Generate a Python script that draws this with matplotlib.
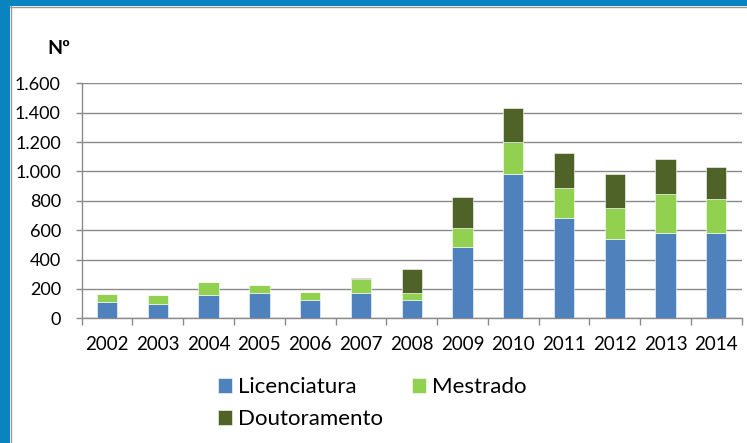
import numpy as np
import matplotlib
matplotlib.use("Agg")
import matplotlib.pyplot as plt
from matplotlib.patches import Rectangle
from matplotlib.lines import Line2D

# ==========================================
# DATA
# ==========================================
years = ["2002", "2003", "2004", "2005", "2006", "2007", "2008",
         "2009", "2010", "2011", "2012", "2013", "2014"]

licenciatura = [113, 99, 161, 174, 127, 174, 127, 486, 985, 685, 540, 581, 579]
mestrado = [52, 58, 84, 55, 50, 92, 45, 127, 218, 204, 211, 263, 236]
doutoramento = [0, 0, 0, 0, 0, 6, 166, 213, 227, 239, 230, 241, 218]

y_ticks = [0, 200, 400, 600, 800, 1000, 1200, 1400, 1600]
y_tick_labels = ["0", "200", "400", "600", "800", "1.000", "1.200", "1.400", "1.600"]

# ==========================================
# STYLE
# ==========================================
plt.rcParams["font.family"] = ["Lato", "DejaVu Sans"]

C_LIC = "#4F81BD"
C_MES = "#92D050"
C_DOU = "#4F6228"
GRID = "#8a8a8a"
FRAME = "#0a84c0"

fig = plt.figure(figsize=(7.47, 4.43), dpi=100)
ax = fig.add_axes([0.1094, 0.2815, 0.8835, 0.5305])

x = np.arange(len(years))
lic = np.array(licenciatura)
mes = np.array(mestrado)
dou = np.array(doutoramento)

bar_kw = dict(width=0.4, edgecolor="white", linewidth=0.4, zorder=3)
ax.bar(x, lic, color=C_LIC, label="Licenciatura", **bar_kw)
ax.bar(x, mes, bottom=lic, color=C_MES, label="Mestrado", **bar_kw)
ax.bar(x, dou, bottom=lic + mes, color=C_DOU, label="Doutoramento", **bar_kw)

ax.set_xlim(-0.5, len(years) - 0.5)
ax.set_ylim(0, 1600)

ax.set_yticks(y_ticks)
ax.set_yticklabels(y_tick_labels, fontsize=13)
ax.set_xticks(x)
ax.set_xticklabels(years, fontsize=13.5)
ax.set_xticks(np.arange(len(years) + 1) - 0.5, minor=True)

ax.tick_params(axis="x", which="major", length=0, pad=13)
ax.tick_params(axis="x", which="minor", length=5, color=GRID, width=1.0)
ax.tick_params(axis="y", length=4, color=GRID, width=1.0, pad=11)

ax.yaxis.grid(True, color=GRID, linewidth=1.0, zorder=0)
ax.set_axisbelow(True)
for side in ["top", "right"]:
    ax.spines[side].set_visible(False)
for side in ["left", "bottom"]:
    ax.spines[side].set_color(GRID)
    ax.spines[side].set_linewidth(1.0)

fig.text(47 / 747, 1 - 48 / 443, "Nº", fontsize=14, fontweight="bold",
         va="center", ha="left")

# legend: Licenciatura, Mestrado on first row, Doutoramento on second
h, l = ax.get_legend_handles_labels()
order = [0, 2, 1]
fig.legend([h[i] for i in order], [l[i] for i in order],
           loc="upper left", bbox_to_anchor=(207 / 747, 1 - 366 / 443),
           ncol=2, frameon=False, fontsize=16, borderpad=0,
           handlelength=0.63, handleheight=0.63, handletextpad=0.28,
           columnspacing=1.3, labelspacing=0.55)

# blue frame around the slide
fig.patches.append(Rectangle((0, 0), 10 / 747, 1, transform=fig.transFigure,
                             facecolor=FRAME, edgecolor="none", zorder=5))
fig.patches.append(Rectangle((0, 1 - 6 / 443), 1, 6 / 443, transform=fig.transFigure,
                             facecolor=FRAME, edgecolor="none", zorder=5))
fig.lines.append(Line2D([10.5 / 747, 10.5 / 747], [0, 1 - 6 / 443],
                        transform=fig.transFigure, color="#999999", lw=1.0))
fig.lines.append(Line2D([10 / 747, 1], [1 - 6.5 / 443, 1 - 6.5 / 443],
                        transform=fig.transFigure, color="#999999", lw=1.0))

fig.savefig("out.png", dpi=100)
